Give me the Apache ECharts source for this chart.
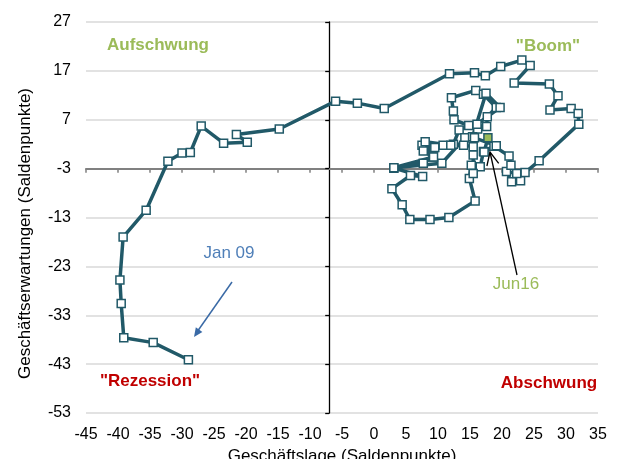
<!DOCTYPE html>
<html>
<head>
<meta charset="utf-8">
<script src="https://cdn.jsdelivr.net/npm/echarts@6/dist/echarts.min.js"></script>
<style>
  html, body { margin: 0; background: #fff; }
  #chart { width: 622px; height: 459px; }
</style>
</head>
<body>
<div id="chart"></div>
<script>
// Geschäftslage (x) und Geschäftserwartungen (y), monatlich Jan 09 .. Jun 16
const lage = [
  -29.0, -34.5, -39.1, -39.5, -39.7, -39.2, -35.6, -32.2, -30.0, -28.7, -27.0, -23.5,
  -19.8, -21.5, -14.8, -6.0, -2.6, 1.6, 11.8, 15.7, 17.4, 19.8, 23.1, 24.4,
  21.9, 27.4, 28.75, 27.5, 30.8, 31.9, 32.0, 25.8, 23.6, 22.9, 21.5, 20.7,
  22.3, 21.4, 21.1, 18.75, 17.1, 16.6, 15.2, 14.9, 15.8, 11.7, 8.75, 5.6,
  4.4, 2.8, 5.7, 7.6, 3.1, 7.7, 9.2, 7.5, 9.3, 10.8, 12.4, 13.3,
  14.8, 16.2, 12.5, 12.4, 12.1, 15.9, 17.1, 19.1, 17.7, 17.6, 14.2, 10.6,
  3.1, 9.3, 7.7, 9.5, 8.0, 12.0, 14.0, 15.5, 15.5, 15.5, 15.4, 17.5,
  19.7, 16.1, 15.7, 19.1, 17.2, 17.8
];
const erwartungen = [
  -42.1, -38.6, -37.6, -30.6, -25.8, -17.0, -11.5, -1.5, 0.2, 0.3, 5.7, 2.2,
  2.4, 4.0, 5.1, 10.8, 10.4, 9.3, 16.4, 16.6, 16.0, 17.9, 19.2, 18.1,
  14.5, 14.3, 11.9, 9.0, 9.3, 8.3, 6.1, -1.4, -3.8, -5.5, -5.7, -3.6,
  -4.0, -2.3, -0.4, 1.6, 0.5, -2.6, -2.3, -5.0, -9.6, -13.0, -13.4, -13.4,
  -10.4, -7.1, -4.4, -4.6, -2.9, -1.9, -0.6, 1.8, 1.2, 1.8, 2.0, 4.9,
  5.8, 5.1, 7.0, 8.8, 11.5, 13.0, 12.2, 9.5, 7.6, 5.6, 3.3, -1.9,
  -2.8, -0.6, 0.6, 1.3, 2.5, 1.8, 1.8, 1.5, -4.0, -0.2, 3.5, 12.4,
  9.5, 6.1, 3.3, 1.7, 0.4, 3.3
];

const xMin = -45, xMax = 35, xStep = 5;
const yMin = -53, yMax = 27, yStep = 10;
const crossX = -7;   // senkrechte Achse
const crossY = -3;   // waagrechte Achse

const font = "'Liberation Sans', Arial, sans-serif";
const teal = '#215968';

const chart = echarts.init(document.getElementById('chart'));

const points = lage.map(function (x, i) {
  const p = { value: [x, erwartungen[i]] };
  if (i === lage.length - 1) p.itemStyle = { color: '#9bbb59' };
  return p;
});

function txt(text, x, y, color, bold) {
  return {
    type: 'text', x: x, y: y, z: 100,
    style: {
      text: text, fill: color, align: 'center', verticalAlign: 'middle',
      font: (bold ? 'bold ' : '') + '17px ' + font
    }
  };
}

const option = {
  animation: false,
  grid: { left: 86, right: 24, top: 22, bottom: 46, outerBoundsMode: 'none' },
  xAxis: [{
    type: 'value', min: xMin, max: xMax, interval: xStep,
    axisLine: { show: false, onZero: false },
    axisTick: { show: false },
    axisLabel: { color: '#000', fontSize: 16, fontFamily: font, margin: 14 },
    splitLine: { show: false },
    name: 'Geschäftslage (Saldenpunkte)', nameLocation: 'middle', nameGap: 34,
    nameTextStyle: { color: '#000', fontSize: 17, fontFamily: font }
  }, {
    // waagrechte Kreuzachse bei y = crossY
    type: 'value', min: xMin - crossX, max: xMax - crossX, interval: xStep,
    position: 'bottom',
    axisLine: { show: true, onZero: true, onZeroAxisIndex: 1, lineStyle: { color: '#808080', width: 2 } },
    axisTick: { show: true, length: 4, lineStyle: { color: '#808080', width: 1.5 } },
    axisLabel: { show: false },
    splitLine: { show: false }
  }],
  yAxis: [{
    type: 'value', min: yMin, max: yMax, interval: yStep,
    axisLine: { show: false, onZero: false },
    axisTick: { show: false },
    axisLabel: { color: '#000', fontSize: 16, fontFamily: font, margin: 15 },
    splitLine: { lineStyle: { color: '#d9d9d9', width: 1.5 } },
    name: 'Geschäftserwartungen (Saldenpunkte)', nameLocation: 'middle', nameGap: 52,
    nameTextStyle: { color: '#000', fontSize: 17, fontFamily: font, padding: [0, 32, 0, 0] }
  }, {
    // senkrechte Kreuzachse bei x = crossX
    type: 'value', min: yMin - crossY, max: yMax - crossY, interval: yStep,
    position: 'left',
    axisLine: { show: true, onZero: true, onZeroAxisIndex: 1, lineStyle: { color: '#000', width: 1.3 } },
    axisTick: { show: true, length: 4, lineStyle: { color: '#000', width: 1.3 } },
    axisLabel: { show: false },
    splitLine: { show: false }
  }],
  series: [{
    type: 'line', xAxisIndex: 0, yAxisIndex: 0,
    data: points,
    symbol: 'rect', symbolSize: 8,
    lineStyle: { color: teal, width: 3.5 },
    itemStyle: { color: '#fff', borderColor: teal, borderWidth: 1.5 },
    emphasis: { disabled: true },
    z: 5
  }],
  graphic: [
    txt('Aufschwung', 158, 45, '#9bbb59', true),
    txt('"Boom"', 548, 46, '#9bbb59', true),
    txt('"Rezession"', 150, 381, '#c00000', true),
    txt('Abschwung', 549, 383, '#c00000', true),
    txt('Jan 09', 229, 253, '#4f7fb8', false),
    txt('Jun16', 516, 284, '#9bbb59', false),
    { type: 'line', z: 100, shape: { x1: 232, y1: 282, x2: 197, y2: 332 },
      style: { stroke: '#3a6aa6', lineWidth: 1.5 } },
    { type: 'polygon', z: 100, shape: { points: [[194, 337], [202.4, 331.9], [195.8, 327.3]] },
      style: { fill: '#3a6aa6' } },
    { type: 'line', z: 100, shape: { x1: 517, y1: 275, x2: 490, y2: 152 },
      style: { stroke: '#000', lineWidth: 1.3 } },
    { type: 'polyline', z: 100, shape: { points: [[486.9, 166], [490, 152], [498.7, 163.4]] },
      style: { stroke: '#000', lineWidth: 1.3, fill: null } }
  ]
};

chart.setOption(option);
</script>
</body>
</html>
